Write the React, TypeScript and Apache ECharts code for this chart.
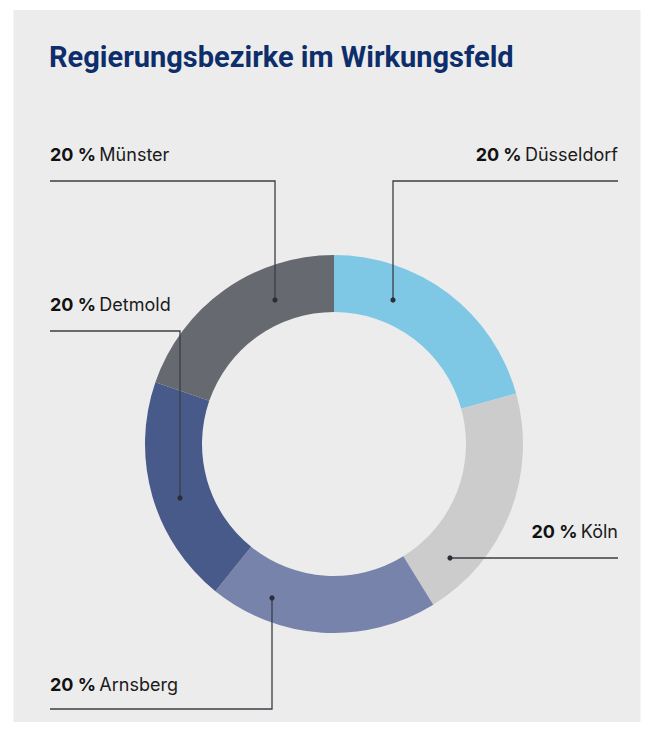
import React, { useEffect, useRef } from "react";
import * as echarts from "echarts";

const titleText = "Regierungsbezirke im Wirkungsfeld";
const categories = ["Düsseldorf", "Köln", "Arnsberg", "Detmold", "Münster"];
const sliceValues = [20.7, 20.5, 19.6, 19.5, 19.7];
const shareLabels = ["20", "20", "20", "20", "20"];
const sliceColors = ["#7ec8e6", "#cbcccb", "#7783ab", "#485a8a", "#66696f"];

// label placement and leader line layout (in pixels)
const labelPlacement = [
  { x: 618, y: 154, align: "right", pts: [[393, 300], [393, 181], [618, 181]] },
  { x: 618, y: 531, align: "right", pts: [[450, 558], [534, 558], [618, 558]] },
  { x: 50, y: 684, align: "left", pts: [[272, 598], [272, 709], [50, 709]] },
  { x: 50, y: 304, align: "left", pts: [[180, 498], [180, 331], [50, 331]] },
  { x: 50, y: 154, align: "left", pts: [[275, 300], [275, 181], [50, 181]] },
];

const FONT = "Inter, Roboto, 'Noto Sans', sans-serif";
const TITLE_FONT = "Roboto, 'Noto Sans', sans-serif";
const LINE_COLOR = "#3b3e45";

export default function App() {
  const ref = useRef<HTMLDivElement>(null);
  useEffect(() => {
    if (!ref.current) return;
    const chart = echarts.init(ref.current, undefined, { renderer: "svg" });
    const data = categories.map((name, i) => ({
      name,
      value: sliceValues[i],
      itemStyle: { color: sliceColors[i] },
    }));
    const overlayData = categories.map((name, i) => ({
      name,
      value: sliceValues[i],
    }));
    chart.setOption({
      animation: false,
      backgroundColor: "#ffffff",
      title: {
        text: titleText,
        left: 44,
        top: 37,
        textStyle: {
          fontFamily: TITLE_FONT,
          fontSize: 29,
          fontWeight: "bold",
          color: "#0d2e6b",
        },
      },
      graphic: [
        {
          type: "rect",
          z: -10,
          shape: { x: 13.5, y: 10, width: 627, height: 712 },
          style: { fill: "#ececec" },
        },
        ...labelPlacement.map((p) => ({
          type: "circle",
          z: 100,
          shape: { cx: p.pts[0][0], cy: p.pts[0][1], r: 2.6 },
          style: { fill: "#2b2e36" },
        })),
      ],
      series: [
        {
          type: "pie",
          z: 2,
          center: [334, 444],
          radius: [132, 189],
          startAngle: 90,
          clockwise: true,
          avoidLabelOverlap: false,
          silent: true,
          data,
          itemStyle: { borderWidth: 0 },
          label: { show: false },
          labelLine: { show: false },
        },
        {
          type: "pie",
          z: 5,
          center: [334, 444],
          radius: [132, 189],
          startAngle: 90,
          clockwise: true,
          avoidLabelOverlap: false,
          silent: true,
          data: overlayData,
          itemStyle: { color: "rgba(0,0,0,0)", borderWidth: 0 },
          label: {
            show: true,
            position: "outside",
            formatter: (p: any) =>
              `{b|${shareLabels[p.dataIndex]} %} {n|${p.name}}`,
            rich: {
              b: {
                fontFamily: FONT,
                fontSize: 18,
                fontWeight: "bold",
                color: "#111111",
              },
              n: {
                fontFamily: FONT,
                fontSize: 18,
                color: "#1a1a1a",
              },
            },
          },
          labelLine: {
            show: true,
            lineStyle: { color: LINE_COLOR, width: 1.3 },
          },
          labelLayout: (params: any) => {
            const p = labelPlacement[params.dataIndex];
            return {
              x: p.x,
              y: p.y,
              align: p.align,
              verticalAlign: "middle",
              hideOverlap: false,
              labelLinePoints: p.pts,
            };
          },
        },
      ],
    });
    return () => chart.dispose();
  }, []);
  return (
    <div
      ref={ref}
      style={{ position: "absolute", left: 0, top: 0, width: 654, height: 740 }}
    />
  );
}
